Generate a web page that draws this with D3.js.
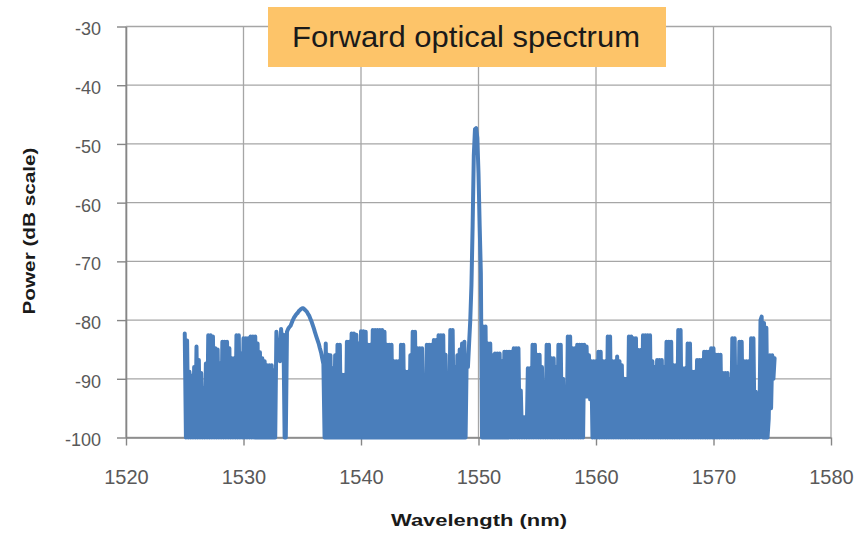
<!DOCTYPE html>
<html>
<head>
<meta charset="utf-8">
<script src="https://cdn.jsdelivr.net/npm/d3@7"></script>
<style>
  body { margin: 0; background: #fff; }
  svg { display: block; font-family: 'Liberation Sans', Arial, sans-serif; }
</style>
</head>
<body>
<div id="chart"></div>
<script>
const chartTitle = 'Forward optical spectrum'
const xTitle = 'Wavelength (nm)'
const yTitle = 'Power (dB scale)'
const xTicks = [1520, 1530, 1540, 1550, 1560, 1570, 1580]
const yTicks = [-100, -90, -80, -70, -60, -50, -40, -30]

// OSA trace, one sample every 0.1 nm from 1525.0 nm, one row per nm (dB)
const startNm = 1525
const stepNm = 0.1
const power = [
  -82.3, -100, -83.5, -100, -88.8, -100, -89.5, -100, -88, -100,
  -84.5, -100, -86.8, -100, -89, -100, -91.6, -100, -87.4, -100,
  -82.6, -100, -82.6, -100, -82.8, -100, -84.8, -100, -85, -100,
  -87.4, -100, -83.7, -100, -83.7, -100, -83.7, -100, -84.8, -100,
  -86.5, -100, -86.5, -100, -82.6, -100, -82.6, -100, -85.7, -100,
  -83.1, -100, -83.1, -100, -83.1, -100, -82.8, -100, -82.8, -100,
  -82.8, -100, -84, -100, -85.5, -100, -86.5, -100, -87, -100,
  -87.7, -100, -87.7, -100, -87.7, -100, -88.5, -100, -82, -86,
  -84, -87, -81.5, -85, -82.5, -100, -100, -82, -81.5, -81.2,
  -81, -80.5, -80, -79.6, -79.3, -79, -78.8, -78.5, -78.3, -78.1,
  -78, -78, -78.2, -78.4, -78.6, -79, -79.3, -79.8, -80.3, -80.9,
  -81.5, -82.2, -82.8, -83.4, -84, -84.8, -85.5, -86.5, -87.5, -100,
  -84, -100, -85.9, -100, -86, -100, -88.2, -100, -86, -100,
  -84.2, -100, -84.2, -100, -89.3, -100, -89.3, -100, -83.7, -100,
  -83.7, -100, -82.3, -100, -82.3, -100, -82.5, -100, -84, -100,
  -81.9, -100, -81.9, -100, -82, -100, -84.2, -100, -84.2, -100,
  -81.7, -100, -81.7, -100, -81.7, -100, -81.7, -100, -81.7, -100,
  -82, -100, -84.2, -100, -84.2, -100, -84.2, -100, -87, -100,
  -87, -100, -87, -100, -84.2, -100, -84.2, -100, -88.8, -100,
  -88.8, -100, -86, -100, -82, -100, -82, -100, -84.8, -100,
  -84.8, -100, -84.8, -100, -91, -100, -84.2, -100, -84.2, -100,
  -84.2, -100, -83.4, -100, -83.4, -100, -82.6, -100, -82.6, -100,
  -82.6, -100, -85.9, -100, -92, -100, -81.7, -100, -81.7, -100,
  -88, -100, -86, -100, -85, -100, -84, -100, -83.7, -100,
  -86, -88, -84, -80, -74, -64, -52, -47.5, -47.3, -49,
  -55, -64, -72, -100, -81.1, -100, -81.1, -100, -84, -100,
  -84, -100, -86, -100, -85.7, -100, -85.7, -100, -85.7, -100,
  -87, -100, -85.4, -100, -85.4, -100, -85.4, -100, -85.4, -100,
  -84.8, -100, -84.8, -100, -84.8, -100, -92, -100, -96.5, -100,
  -96.5, -100, -88.2, -100, -88.2, -100, -84.2, -100, -84.2, -100,
  -85.9, -100, -85.9, -100, -88, -100, -93, -100, -84.2, -100,
  -84.2, -100, -86.5, -100, -86.5, -100, -88, -100, -84.2, -100,
  -84.2, -100, -90, -100, -94.6, -100, -82.8, -100, -82.8, -100,
  -84.8, -100, -84.8, -100, -84.2, -100, -84.2, -100, -84.2, -100,
  -84.2, -93, -84.5, -93, -86, -93.5, -87, -100, -87, -100,
  -87, -100, -85.4, -100, -85.4, -100, -87, -100, -87, -100,
  -82.8, -100, -82.8, -100, -87, -100, -87, -100, -86.2, -100,
  -87, -100, -87.7, -100, -90, -100, -90, -100, -82.8, -100,
  -82.8, -100, -83.1, -100, -83.1, -100, -85.1, -100, -85.1, -100,
  -82.6, -100, -82.6, -100, -82.6, -100, -82.6, -100, -87, -100,
  -88, -100, -86.8, -100, -86.8, -100, -86.8, -100, -88, -100,
  -83.7, -100, -83.7, -100, -83.7, -100, -87.7, -100, -87.7, -100,
  -81.7, -100, -81.7, -100, -88.2, -100, -88.2, -100, -84, -100,
  -84, -100, -88.8, -100, -88.8, -100, -86.8, -100, -86.8, -100,
  -86.8, -100, -85.4, -100, -85.4, -100, -85.4, -100, -84.8, -100,
  -84.8, -100, -85.9, -100, -85.9, -100, -85.9, -100, -89, -100,
  -89, -100, -89, -100, -90, -100, -83.1, -100, -83.1, -100,
  -88, -100, -83.7, -100, -83.7, -100, -87, -100, -87, -100,
  -87, -100, -83.1, -100, -83.1, -100, -92.2, -100, -92.5, -100,
  -80, -79.4, -100, -80.5, -100, -81.3, -100, -96.8, -86, -95,
  -86, -90, -86.5
]

const spectrum = power.map((p, i) => ({ nm: startNm + i * stepNm, db: p }))

const width = 868
const height = 533
const plot = { left: 126, right: 831, top: 26.5, bottom: 437.5 }

const svg = d3.select('#chart')
  .append('svg')
  .attr('width', width)
  .attr('height', height)

const x = d3.scaleLinear()
  .domain([1520, 1580])
  .range([plot.left, plot.right])

const y = d3.scaleLinear()
  .domain([-100, -30])
  .range([plot.bottom, plot.top])

// grid
svg.append('g')
  .selectAll('line')
  .data(yTicks)
  .join('line')
  .attr('x1', plot.left)
  .attr('x2', plot.right)
  .attr('y1', d => y(d))
  .attr('y2', d => y(d))
  .attr('stroke', '#a6a6a6')
  .attr('stroke-width', 1.3)

svg.append('g')
  .selectAll('line')
  .data(xTicks)
  .join('line')
  .attr('x1', d => x(d))
  .attr('x2', d => x(d))
  .attr('y1', plot.top)
  .attr('y2', plot.bottom)
  .attr('stroke', '#a6a6a6')
  .attr('stroke-width', 1.3)

// axes
const yAxis = svg.append('g')
  .attr('transform', `translate(${plot.left},0)`)
  .call(d3.axisLeft(y).tickValues(yTicks).tickSize(9).tickSizeOuter(0).tickPadding(16).tickFormat(d => String(d)))

const xAxis = svg.append('g')
  .attr('transform', `translate(0,${plot.bottom})`)
  .call(d3.axisBottom(x).tickValues(xTicks).tickSize(8).tickSizeOuter(0).tickPadding(24).tickFormat(d => String(d)))

yAxis.selectAll('text')
  .attr('dy', '0.47em')
  .style('font-size', '18px')
xAxis.selectAll('text')
  .style('font-size', '20px')

for (const ax of [yAxis, xAxis]) {
  ax.select('.domain').attr('stroke', '#868686').attr('stroke-width', 1.6)
  ax.selectAll('.tick line').attr('stroke', '#868686').attr('stroke-width', 1.4)
  ax.selectAll('.tick text').attr('fill', '#595959')
}

// spectrum trace
const line = d3.line()
  .x(d => x(d.nm))
  .y(d => y(d.db))

svg.append('path')
  .datum(spectrum)
  .attr('d', line)
  .attr('fill', 'none')
  .attr('stroke', '#4a7ebb')
  .attr('stroke-width', 4)
  .attr('stroke-linejoin', 'round')
  .attr('stroke-linecap', 'round')

// axis titles
svg.append('text')
  .attr('x', 479)
  .attr('y', 526)
  .attr('text-anchor', 'middle')
  .attr('textLength', 176)
  .attr('lengthAdjust', 'spacingAndGlyphs')
  .style('font-size', '17px')
  .style('font-weight', 'bold')
  .attr('fill', '#1a1a1a')
  .text(xTitle)

svg.append('text')
  .attr('transform', 'translate(35,231) rotate(-90)')
  .attr('text-anchor', 'middle')
  .attr('textLength', 167)
  .attr('lengthAdjust', 'spacingAndGlyphs')
  .style('font-size', '16px')
  .style('font-weight', 'bold')
  .attr('fill', '#1a1a1a')
  .text(yTitle)

// title box
svg.append('rect')
  .attr('x', 268)
  .attr('y', 7)
  .attr('width', 398)
  .attr('height', 60)
  .attr('fill', '#fdc469')

svg.append('text')
  .attr('x', 466)
  .attr('y', 47)
  .attr('text-anchor', 'middle')
  .attr('textLength', 348)
  .attr('lengthAdjust', 'spacingAndGlyphs')
  .style('font-size', '30px')
  .attr('fill', '#1a1a1a')
  .text(chartTitle)
</script>
</body>
</html>
